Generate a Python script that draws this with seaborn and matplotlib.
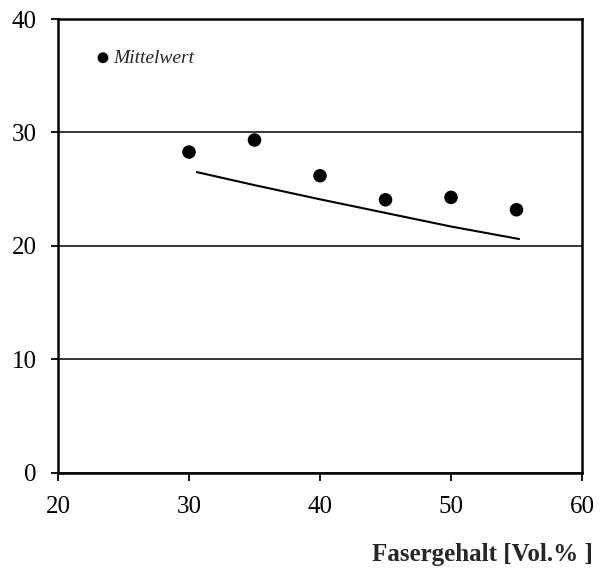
import matplotlib
matplotlib.use('Agg')
import matplotlib.pyplot as plt
import seaborn as sns
import pandas as pd

sns.set_style('ticks')
plt.rcParams['font.family'] = ['Liberation Serif', 'DejaVu Serif']

# Mittelwerte
faser = [30, 35, 40, 45, 50, 55]
mittelwert = [28.27, 29.33, 26.18, 24.06, 24.27, 23.18]

# Ausgleichskurve
kurve_x = [30.6, 35, 40, 45, 50, 55.2]
kurve_y = [26.5, 25.35, 24.1, 22.9, 21.7, 20.6]

df = pd.DataFrame({'faser': faser, 'wert': mittelwert})
df_kurve = pd.DataFrame({'x': kurve_x, 'y': kurve_y})

fig = plt.figure(figsize=(6, 5.68), dpi=100)
ax = fig.add_axes([0.0967, 0.168, 0.8733, 0.7985])

ax.grid(axis='y', color='black', linewidth=1.1)
ax.set_axisbelow(True)

sns.lineplot(data=df_kurve, x='x', y='y', ax=ax, color='black', linewidth=1.5, legend=False)
sns.scatterplot(data=df, x='faser', y='wert', ax=ax, color='black', s=95,
                edgecolor='none', label='Mittelwert', zorder=3)

ax.set_xlim(20, 60)
ax.set_ylim(0, 40)
ax.set_xticks([20, 30, 40, 50, 60])
ax.set_yticks([0, 10, 20, 30, 40])
ax.set_xlabel('')
ax.set_ylabel('')

for s in ax.spines.values():
    s.set_linewidth(1.8)
    s.set_color('black')
ax.tick_params(axis='x', direction='out', length=5.8, width=1.3, pad=11, labelsize=18, colors='black')
ax.tick_params(axis='y', direction='out', length=5, width=1.3, pad=10.5, labelsize=18, colors='black')

leg = ax.legend(loc='center left', bbox_to_anchor=(0.0765, 0.914), frameon=False,
                handlelength=0.5, handletextpad=0.3, borderpad=0, borderaxespad=0,
                markerscale=0.8, prop={'style': 'italic', 'size': 14})

fig.text(593 / 600, 1 - 561 / 568, 'Fasergehalt [Vol.% ]', ha='right', va='baseline',
         fontsize=18, fontweight='bold')

plt.savefig('out.png', dpi=100)
